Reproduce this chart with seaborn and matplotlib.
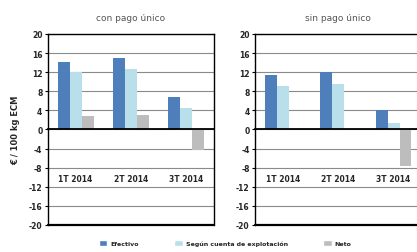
import matplotlib.pyplot as plt
from matplotlib.patches import Patch
import seaborn as sns
import pandas as pd

trimestres = ["1T 2014", "2T 2014", "3T 2014"]
series = ["Efectivo", "Según cuenta de explotación", "Neto"]
colores = ["#4f7fbb", "#b9e0ea", "#bdbdbd"]

con_efectivo = [14.2, 15.0, 6.8]
con_cuenta = [12.0, 12.7, 4.4]
con_neto = [2.8, 3.1, -4.3]

sin_efectivo = [11.3, 12.0, 4.0]
sin_cuenta = [9.0, 9.5, 1.4]
sin_neto = [0.0, 0.0, -7.7]

yticks = [20, 16, 12, 8, 4, 0, -4, -8, -12, -16, -20]


def long_df(efectivo, cuenta, neto):
    rows = []
    for nombre, vals in zip(series, [efectivo, cuenta, neto]):
        for t, v in zip(trimestres, vals):
            rows.append({"trimestre": t, "serie": nombre, "valor": v})
    return pd.DataFrame(rows)


sns.set_style("white")
fig = plt.figure(figsize=(4.17, 2.53), dpi=100)
ax1 = fig.add_axes([0.115, 0.107, 0.398, 0.755])
ax2 = fig.add_axes([0.612, 0.107, 0.398, 0.755])

paneles = [
    (ax1, long_df(con_efectivo, con_cuenta, con_neto), "con pago único"),
    (ax2, long_df(sin_efectivo, sin_cuenta, sin_neto), "sin pago único"),
]

for ax, df, titulo in paneles:
    sns.barplot(data=df, x="trimestre", y="valor", hue="serie", order=trimestres,
                hue_order=series, palette=colores, width=0.65, saturation=1,
                linewidth=0, legend=False, ax=ax, zorder=3)
    ax.set_ylim(-20, 20)
    ax.set_xlim(-0.5, 2.5)
    ax.set_yticks(yticks)
    ax.set_yticklabels([str(v) for v in yticks], fontsize=5.5, fontweight="bold")
    ax.yaxis.grid(True, color="#8a8a8a", lw=0.8, zorder=0)
    ax.set_xlabel("")
    ax.set_ylabel("")
    ax.set_title(titulo, fontsize=6.5, color="#555555", pad=10)
    for s in ax.spines.values():
        s.set_color("black")
        s.set_linewidth(1.0)
    ax.spines["bottom"].set_position(("data", 0))
    ax.spines["bottom"].set_linewidth(1.3)
    ax.spines["bottom"].set_zorder(5)
    ax.axhline(-20, color="black", lw=1.6, clip_on=False, zorder=4)
    ax.set_xticks([0, 1, 2])
    ax.set_xticklabels(trimestres, fontsize=5.5, fontweight="bold")
    ax.set_xticks([0.5, 1.5], minor=True)
    ax.tick_params(axis="x", which="major", length=0, pad=32)
    ax.tick_params(axis="x", which="minor", length=3, width=1.2, direction="out", color="black")
    ax.tick_params(axis="y", length=2, width=0.8, direction="out", left=True, pad=2, color="black")

ax1.set_ylabel("€ / 100 kg ECM", fontsize=6, fontweight="bold", labelpad=6)

handles = [Patch(facecolor=c, label=n) for c, n in zip(colores, series)]
fig.legend(handles=handles, loc="lower center", bbox_to_anchor=(0.54, 0.0), ncol=3,
           frameon=False, prop={"size": 4.5, "weight": "bold"}, handlelength=1.4,
           handleheight=1.2, columnspacing=5.6, handletextpad=0.5)

fig.savefig("out.png", dpi=100)
